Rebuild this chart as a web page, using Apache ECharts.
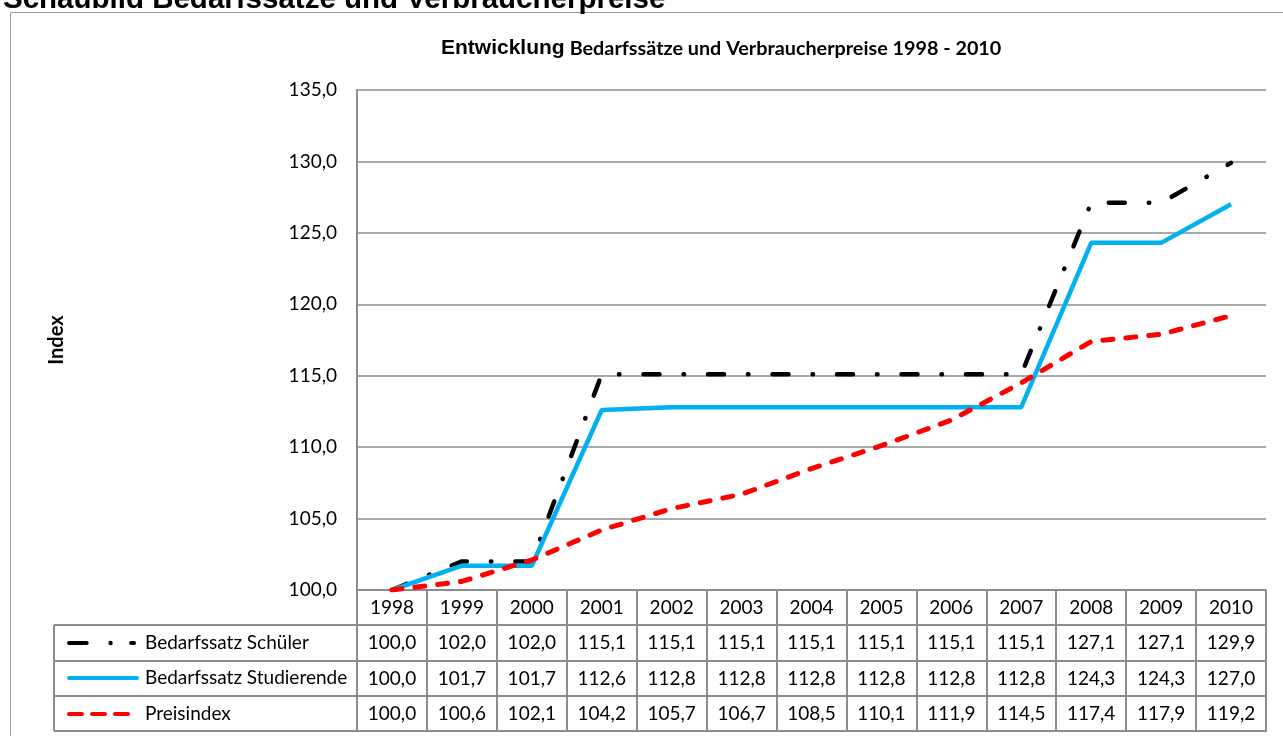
<!DOCTYPE html>
<html>
<head>
<meta charset="utf-8">
<script src="https://cdn.jsdelivr.net/npm/echarts@6/dist/echarts.min.js"></script>
<style>
html, body { margin: 0; padding: 0; background: #fff; }
#main { width: 1283px; height: 736px; }
</style>
</head>
<body>
<div id="main"></div>
<script>
// Daten aus dem Schaubild
var years = ['1998', '1999', '2000', '2001', '2002', '2003', '2004', '2005', '2006', '2007', '2008', '2009', '2010'];
var schueler = [100.0, 102.0, 102.0, 115.1, 115.1, 115.1, 115.1, 115.1, 115.1, 115.1, 127.1, 127.1, 129.9];
var studierende = [100.0, 101.7, 101.7, 112.6, 112.8, 112.8, 112.8, 112.8, 112.8, 112.8, 124.3, 124.3, 127.0];
var preisindex = [100.0, 100.6, 102.1, 104.2, 105.7, 106.7, 108.5, 110.1, 111.9, 114.5, 117.4, 117.9, 119.2];
var seriesNames = ['Bedarfssatz Schüler', 'Bedarfssatz Studierende', 'Preisindex'];
var yMin = 100, yMax = 135, yStep = 5;

var font = 'Lato, sans-serif';
var gray = '#8c8c8c';
var rowH = 35.3;   // Zeilenhöhe der Datentabelle
var legendLeft = 54;

function fmt(v) {
	return v.toFixed(1).replace('.', ',');
}

// Legendensymbole (Strich-Punkt, durchgezogen, gestrichelt)
var iconSchueler = 'path://M2,0 L20,0 A2,2 0 0 1 20,4 L2,4 A2,2 0 0 1 2,0 Z ' +
	'M42,2 A2.2,2.2 0 1 1 46.4,2 A2.2,2.2 0 1 1 42,2 Z ' +
	'M65,0 L68,0 A2,2 0 0 1 68,4 L65,4 A2,2 0 0 1 65,0 Z';
var iconStud = 'path://M2,0 L70,0 A2,2 0 0 1 70,4 L2,4 A2,2 0 0 1 2,0 Z';
var iconPreis = 'path://M2,0 L15,0 A2,2 0 0 1 15,4 L2,4 A2,2 0 0 1 2,0 Z ' +
	'M25,0 L38,0 A2,2 0 0 1 38,4 L25,4 A2,2 0 0 1 25,0 Z ' +
	'M48,0 L61,0 A2,2 0 0 1 61,4 L48,4 A2,2 0 0 1 48,0 Z';

var chart = echarts.init(document.getElementById('main'));

// Tabellenzeile als zusätzliche x-Achse
function rowAxis(values, i) {
	return {
		type: 'category',
		data: years,
		position: 'bottom',
		offset: Math.round(rowH * (i + 1)),
		axisLine: { show: false },
		axisTick: { show: false },
		axisLabel: {
			interval: 0, margin: 8, fontSize: 19, color: '#000', fontFamily: font,
			formatter: function (v, idx) { return fmt(values[idx]); }
		}
	};
}

function legendRow(i, icon, w, pad) {
	return {
		left: 62, top: Math.round(590 + rowH * (i + 1.5) - 17),
		itemWidth: w, itemHeight: 4.5,
		icon: icon,
		textStyle: { fontSize: 19, lineHeight: 24, fontFamily: font, color: '#000', padding: [0, 0, 0, pad] },
		data: [seriesNames[i]]
	};
}

var option = {
	animation: false,
	title: {
		left: 436, top: 33,
		text: '{a|Entwicklung} {b|Bedarfssätze und Verbraucherpreise 1998 - 2010}',
		textStyle: {
			rich: {
				a: { fontSize: 21, fontWeight: 'bold', fontFamily: 'Liberation Sans', color: '#000' },
				b: { fontSize: 19.8, fontWeight: 'bold', fontFamily: font, color: '#000' }
			}
		}
	},
	grid: { left: 357, right: 17, top: 90, bottom: 146, outerBoundsMode: 'none' },
	legend: [
		legendRow(0, iconSchueler, 69, 4),
		legendRow(1, iconStud, 72, 1),
		legendRow(2, iconPreis, 63, 10)
	],
	xAxis: [{
		type: 'category',
		data: years,
		boundaryGap: true,
		axisLine: { lineStyle: { color: gray, width: 2 } },
		axisTick: { show: true, interval: 0, length: Math.round(rowH * 4), lineStyle: { color: gray, width: 2 } },
		axisLabel: { interval: 0, margin: 8, fontSize: 19, color: '#000', fontFamily: font }
	},
		rowAxis(schueler, 0),
		rowAxis(studierende, 1),
		rowAxis(preisindex, 2)
	],
	yAxis: {
		type: 'value',
		min: yMin, max: yMax, interval: yStep,
		name: 'Index',
		nameLocation: 'middle',
		nameGap: 290,
		nameRotate: 90,
		nameTextStyle: { fontSize: 20, fontWeight: 'bold', fontFamily: font, color: '#000' },
		axisLine: { show: true, lineStyle: { color: gray, width: 2 } },
		axisTick: { show: false },
		axisLabel: { margin: 20, fontSize: 19, color: '#000', fontFamily: font, formatter: fmt },
		splitLine: { lineStyle: { color: gray, width: 1.5 } }
	},
	series: [{
		name: seriesNames[0], type: 'line', data: schueler, symbol: 'none',
		lineStyle: { color: '#000', width: 4.5, type: [16, 24, 0.5, 24], cap: 'round' },
		itemStyle: { color: '#000' }
	}, {
		name: seriesNames[1], type: 'line', data: studierende, symbol: 'none',
		lineStyle: { color: '#00B0F0', width: 4.5 },
		itemStyle: { color: '#00B0F0' }
	}, {
		name: seriesNames[2], type: 'line', data: preisindex, symbol: 'none',
		lineStyle: { color: '#FF0000', width: 5, type: [10, 13], cap: 'round' },
		itemStyle: { color: '#FF0000' }
	}]
};
chart.setOption(option);

// Rahmen und Linien der Datentabelle
var step = chart.convertToPixel({ xAxisIndex: 0 }, years[1]) - chart.convertToPixel({ xAxisIndex: 0 }, years[0]);
var xRight = chart.convertToPixel({ xAxisIndex: 0 }, years[years.length - 1]) + step / 2;
var yBase = chart.convertToPixel({ yAxisIndex: 0 }, yMin);
var lines = [];
for (var r = 1; r <= 4; r++) {
	var yy = Math.round(yBase + rowH * r);
	lines.push({ type: 'line', shape: { x1: legendLeft, y1: yy, x2: xRight + 1, y2: yy }, style: { stroke: gray, lineWidth: 2 } });
}
lines.push({ type: 'line', shape: { x1: legendLeft, y1: Math.round(yBase + rowH), x2: legendLeft, y2: Math.round(yBase + rowH * 4) }, style: { stroke: gray, lineWidth: 2 } });
lines.push({ type: 'rect', shape: { x: 10.5, y: 12.5, width: 1400, height: 900 }, style: { fill: null, stroke: '#999', lineWidth: 1 } });
lines.push({ type: 'text', left: 3, top: -15, style: { text: 'Schaubild Bedarfssätze und Verbraucherpreise', font: 'bold 29.5px "Liberation Sans", Arial, sans-serif', fill: '#000' } });
chart.setOption({ graphic: lines });
</script>
</body>
</html>
